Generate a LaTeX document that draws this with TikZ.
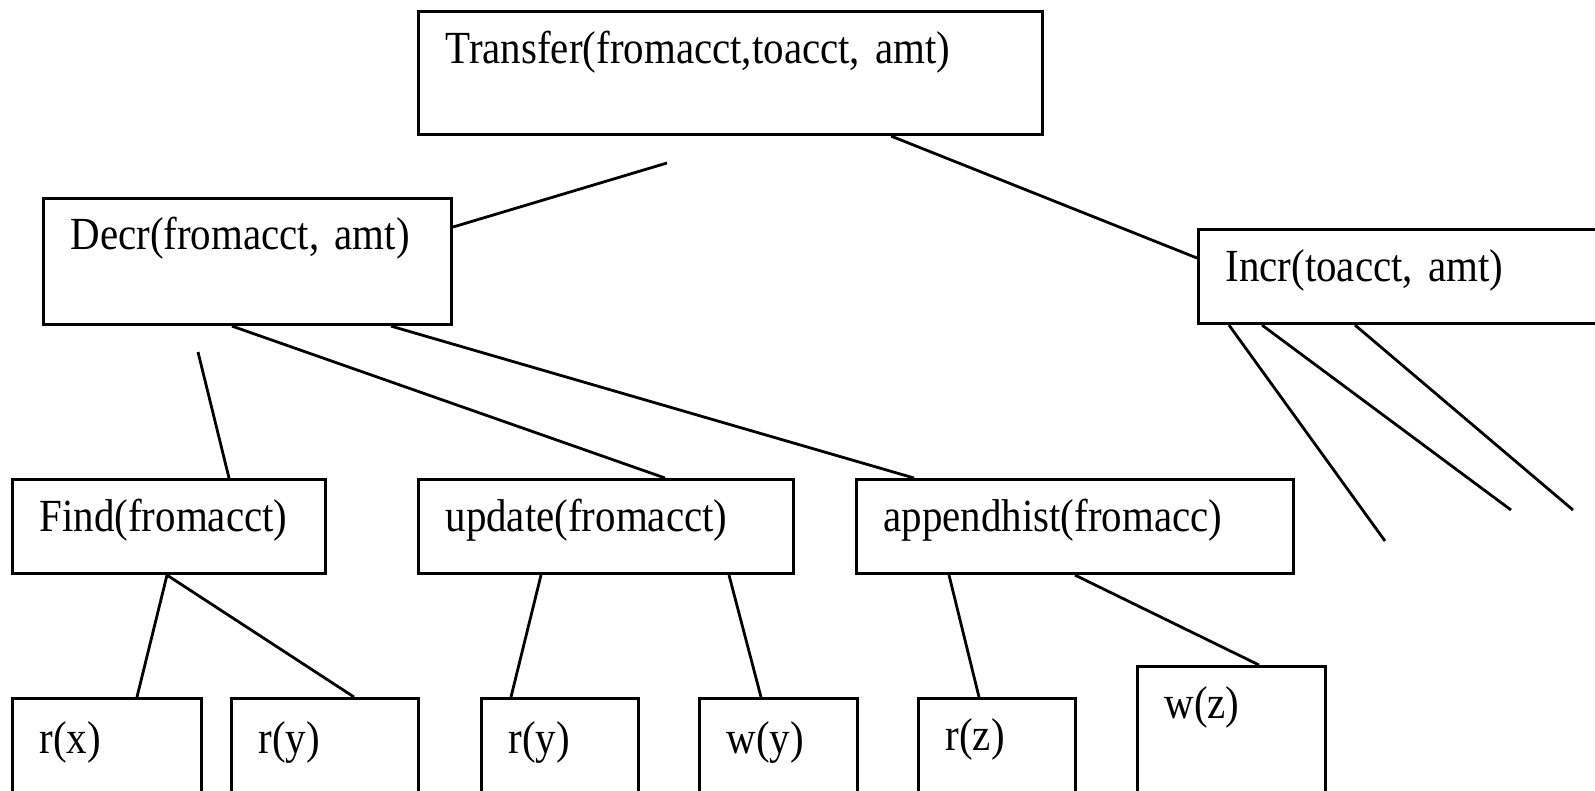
\documentclass[tikz,border=0pt]{standalone}
\usepackage{fontspec}
\setmainfont{Liberation Serif}[FakeStretch=0.89]
\tikzset{
  box/.style={draw, rectangle, line width=3.1pt, anchor=north west,
    inner xsep=27pt, inner ysep=0pt, align=left},
  link/.style={line width=2.8pt},
}
\begin{document}
\begin{tikzpicture}[x=1pt, y=-1pt, font=\fontsize{46}{52}\selectfont]
      \useasboundingbox (0,0) rectangle (1595,790);
      \clip (0,0) rectangle (1595,790);
      \fill[white] (0,0) rectangle (1595,790);
      % top level
      \node[box, text width=570pt, text height=52pt, text depth=71pt] (transfer) at (417,10) {Transfer(fromacct,toacct, amt)};
      \node[box, text width=354pt, text height=51pt, text depth=75pt] (decr) at (42,197) {Decr(fromacct, amt)};
      \node[box, text width=366pt, text height=52pt, text depth=42pt] (incr) at (1197,228) {Incr(toacct, amt)};
      % second level
      \node[box, text width=259pt, text height=52pt, text depth=42pt] (find) at (11,478) {Find(fromacct)};
      \node[box, text width=321pt, text height=52pt, text depth=42pt] (update) at (417,478) {update(fromacct)};
      \node[box, text width=383pt, text height=52pt, text depth=42pt] (append) at (855,478) {appendhist(fromacc)};
      % leaves
      \node[box, text width=135pt, text height=55pt, text depth=45pt] (rx) at (11,697) {r(x)};
      \node[box, text width=133pt, text height=55pt, text depth=45pt] (ry) at (230,697) {r(y)};
      \node[box, text width=103pt, text height=55pt, text depth=45pt] (ryb) at (480,697) {r(y)};
      \node[box, text width=104pt, text height=55pt, text depth=45pt] (wy) at (698,697) {w(y)};
      \node[box, text width=103pt, text height=52pt, text depth=48pt] (rz) at (917,697) {r(z)};
      \node[box, text width=134pt, text height=52pt, text depth=80pt] (wz) at (1136,665) {w(z)};
      % loose ends
      \coordinate (c1) at (667,163);
      \coordinate (c2) at (198,352);
      \coordinate (i1) at (1385,541);
      \coordinate (i2) at (1511,510);
      \coordinate (i3) at (1573,510);
      \begin{scope}[link]
        \draw ([yshift=-30pt]decr.north east) -- (c1);
        \draw ([xshift=-153pt]transfer.south east) -- ([yshift=-30pt]incr.north west);
        \draw (c2) -- ([xshift=218pt]find.north west);
        \draw ([xshift=190pt]decr.south west) -- ([xshift=248pt]update.north west);
        \draw ([xshift=349pt]decr.south west) -- ([xshift=59pt]append.north west);
        \draw ([xshift=32pt]incr.south west) -- (i1);
        \draw ([xshift=65pt]incr.south west) -- (i2);
        \draw ([xshift=158pt]incr.south west) -- (i3);
        \draw ([xshift=156pt]find.south west) -- ([xshift=126pt]rx.north west);
        \draw ([xshift=156pt]find.south west) -- ([xshift=124pt]ry.north west);
        \draw ([xshift=124pt]update.south west) -- ([xshift=31pt]ryb.north west);
        \draw ([xshift=312pt]update.south west) -- ([xshift=63pt]wy.north west);
        \draw ([xshift=94pt]append.south west) -- ([xshift=62pt]rz.north west);
        \draw ([xshift=220pt]append.south west) -- ([xshift=123pt]wz.north west);
      \end{scope}
    \end{tikzpicture}
\end{document}
